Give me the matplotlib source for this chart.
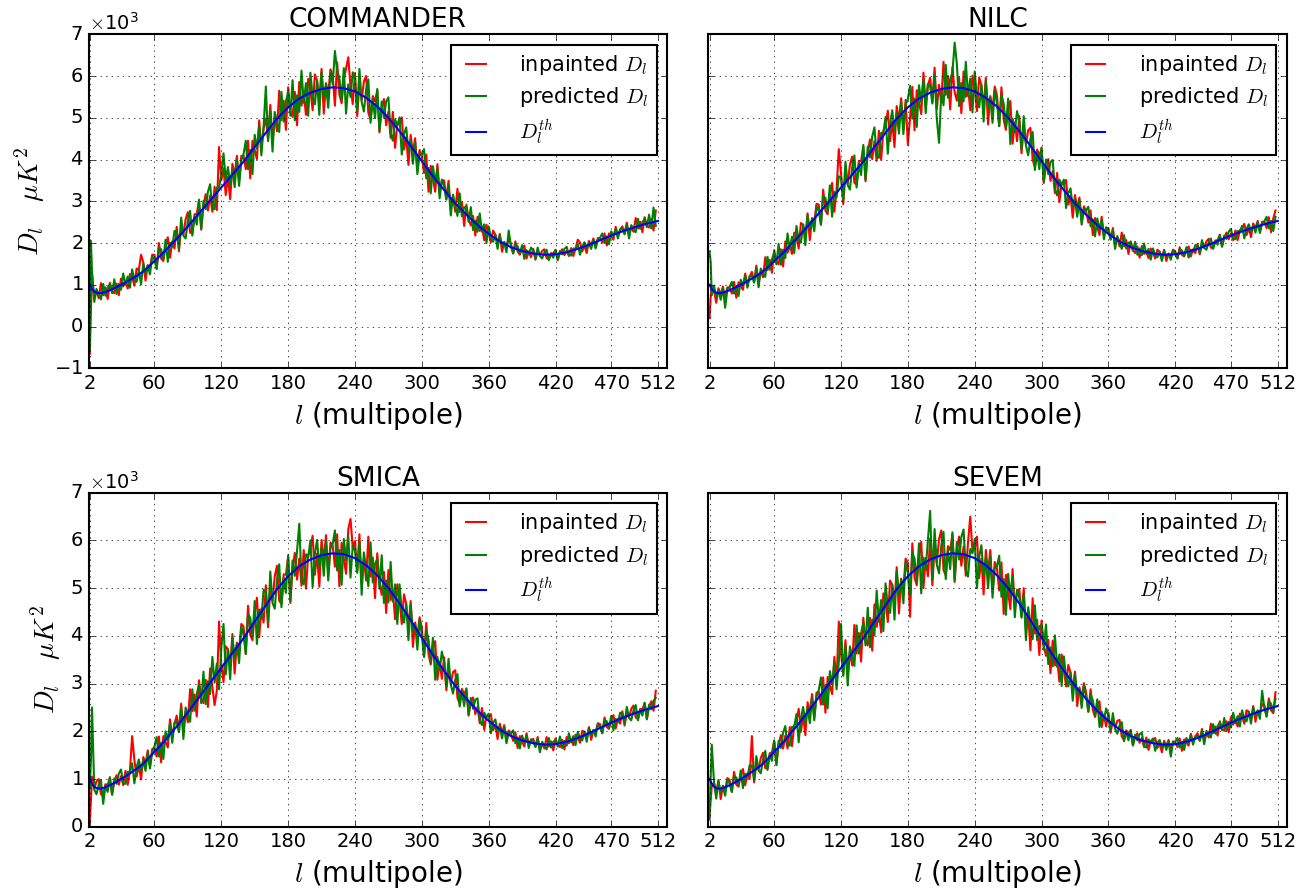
import numpy as np
import matplotlib
matplotlib.use("Agg")
import matplotlib.pyplot as plt

# multipoles of the spectra (values below in units of 10^3 muK^2)
ell = [2, 3, 4] + list(range(6, 511, 2))

# theoretical spectrum
ell_th = [2, 4, 6, 8, 10, 12, 15, 20, 25, 30, 35, 40, 45, 50, 55, 60, 65, 70, 75, 80,
          90, 100, 110, 120, 130, 140, 150, 160, 170, 180, 190, 200, 210, 220, 230, 240,
          250, 260, 270, 280, 290, 300, 310, 320, 330, 340, 350, 360, 370, 380, 390, 400,
          410, 420, 430, 440, 450, 460, 470, 480, 490, 500, 512]
dl_th = [1.00, 0.90, 0.84, 0.81, 0.80, 0.80, 0.82, 0.87, 0.93, 1.00, 1.07, 1.15, 1.23, 1.32,
         1.44, 1.57, 1.69, 1.82, 1.97, 2.10,
         2.40, 2.71, 3.02, 3.33, 3.64, 3.95, 4.30, 4.64, 4.98, 5.25,
         5.46, 5.60, 5.69, 5.73, 5.71, 5.63, 5.48, 5.27, 5.00, 4.68,
         4.33, 3.96, 3.60, 3.27, 2.95, 2.68, 2.43, 2.22, 2.04, 1.90,
         1.81, 1.75, 1.72, 1.73, 1.78, 1.86, 1.96, 2.07, 2.18, 2.28,
         2.37, 2.45, 2.53]

commander_inp = [
    -0.65, 0.40, 1.25, 0.68, 0.86, 0.68, 1.04, 0.75, 0.94, 0.66,
    1.05, 0.85, 0.80, 1.03, 0.75, 1.15, 0.96, 1.09, 0.91, 1.26,
    1.19, 0.98, 1.39, 1.36, 1.72, 1.54, 1.10, 1.47, 1.40, 1.72,
    1.72, 1.38, 2.00, 1.63, 1.57, 1.93, 2.14, 1.65, 2.04, 1.87,
    2.39, 1.80, 2.38, 2.20, 2.57, 2.74, 2.25, 2.23, 2.69, 2.70,
    3.01, 2.32, 2.89, 3.17, 2.78, 3.14, 2.75, 3.35, 2.79, 4.30,
    3.50, 3.79, 3.15, 3.59, 3.05, 3.90, 3.60, 4.09, 3.47, 4.09,
    4.09, 3.77, 4.45, 3.55, 4.45, 4.23, 4.01, 4.94, 4.28, 4.75,
    4.98, 4.48, 5.31, 4.42, 5.02, 4.68, 5.65, 4.94, 5.41, 4.71,
    5.73, 5.17, 5.02, 5.62, 4.82, 5.86, 5.29, 5.60, 5.07, 5.93,
    5.68, 5.18, 6.04, 5.89, 5.39, 6.17, 5.10, 5.83, 5.56, 6.16,
    6.01, 5.29, 6.33, 5.56, 5.35, 5.91, 6.18, 6.45, 5.74, 5.33,
    6.07, 5.04, 5.81, 5.42, 5.87, 6.00, 5.12, 4.96, 5.52, 5.39,
    5.65, 4.65, 5.24, 5.45, 4.82, 5.15, 4.52, 5.14, 4.28, 4.85,
    4.85, 5.01, 4.24, 4.54, 3.87, 4.59, 4.16, 4.51, 3.75, 4.23,
    4.08, 3.68, 4.12, 3.23, 3.85, 3.54, 3.23, 3.89, 3.22, 3.49,
    3.50, 3.06, 3.49, 2.81, 3.09, 2.75, 3.30, 2.74, 2.97, 2.41,
    2.92, 2.57, 2.42, 2.65, 2.18, 2.63, 2.29, 2.39, 2.07, 2.44,
    2.25, 2.02, 2.30, 2.20, 1.98, 2.22, 1.79, 2.03, 1.90, 2.10,
    1.98, 1.75, 2.04, 1.80, 1.72, 1.87, 1.94, 1.63, 1.80, 1.66,
    1.86, 1.60, 1.80, 1.70, 1.81, 1.85, 1.64, 1.61, 1.76, 1.75,
    1.83, 1.59, 1.77, 1.85, 1.71, 1.82, 1.69, 1.88, 1.69, 1.87,
    2.08, 2.01, 1.80, 1.94, 1.76, 2.05, 1.95, 2.11, 1.90, 2.12,
    2.12, 2.01, 2.23, 1.94, 2.23, 2.16, 2.08, 2.39, 2.17, 2.32,
    2.40, 2.22, 2.49, 2.19, 2.39, 2.27, 2.60, 2.35, 2.51, 2.26,
    2.62, 2.42, 2.37, 2.58, 2.30, 2.78]
commander_pred = [
    -0.55, 2.05, 1.30, 0.59, 0.90, 0.77, 0.65, 1.02, 0.74, 0.93,
    1.01, 0.80, 1.13, 0.78, 1.02, 0.88, 1.27, 1.00, 1.20, 0.93,
    1.37, 1.13, 1.07, 1.36, 1.01, 1.50, 1.28, 1.46, 1.25, 1.68,
    1.61, 1.38, 1.89, 1.85, 1.62, 2.08, 1.55, 2.01, 1.91, 2.29,
    2.28, 1.87, 2.61, 2.18, 2.11, 2.53, 2.77, 2.18, 2.64, 2.44,
    3.04, 2.35, 3.01, 2.81, 3.23, 3.41, 2.84, 2.81, 3.33, 3.33,
    3.66, 4.15, 3.52, 3.82, 3.38, 3.77, 3.34, 3.99, 3.37, 3.99,
    4.13, 4.45, 3.77, 4.23, 3.65, 4.59, 4.26, 4.80, 4.10, 4.79,
    5.75, 4.44, 5.16, 4.19, 5.14, 4.90, 4.66, 5.62, 4.91, 5.39,
    5.61, 5.05, 5.90, 4.94, 5.54, 5.14, 6.13, 5.36, 5.83, 5.05,
    6.08, 5.50, 5.32, 5.89, 5.07, 6.09, 5.50, 5.79, 5.24, 6.08,
    5.81, 6.60, 6.13, 5.96, 5.43, 6.19, 5.10, 5.80, 5.50, 6.09,
    5.91, 5.16, 6.17, 5.38, 5.15, 5.68, 5.92, 4.88, 5.44, 4.99,
    5.69, 4.69, 5.39, 5.00, 5.39, 5.49, 4.64, 4.45, 4.96, 4.82,
    5.01, 4.12, 4.61, 4.77, 4.20, 4.46, 3.90, 4.41, 3.65, 4.13,
    4.11, 4.25, 3.55, 3.80, 3.19, 3.84, 3.44, 3.77, 3.07, 3.52,
    3.37, 3.04, 3.39, 2.66, 3.16, 2.90, 2.65, 3.19, 2.64, 2.86,
    2.86, 2.51, 2.86, 2.31, 2.54, 2.27, 2.71, 2.27, 2.45, 2.00,
    2.40, 2.14, 2.03, 2.20, 1.86, 2.19, 1.94, 2.01, 1.78, 2.30,
    1.92, 1.75, 1.98, 1.92, 1.75, 1.95, 1.62, 1.83, 1.73, 1.89,
    1.82, 1.63, 1.89, 1.69, 1.63, 1.77, 1.84, 1.59, 1.74, 1.65,
    1.84, 1.60, 1.81, 1.73, 1.86, 1.91, 1.72, 1.70, 1.87, 1.86,
    1.97, 1.72, 1.92, 2.02, 1.87, 2.00, 1.86, 2.08, 1.87, 2.08,
    2.13, 2.23, 2.00, 2.16, 1.97, 2.28, 2.16, 2.34, 2.11, 2.33,
    2.33, 2.21, 2.44, 2.11, 2.43, 2.34, 2.26, 2.58, 2.34, 2.50,
    2.58, 2.38, 2.68, 2.35, 2.85, 2.41]

nilc_inp = [
    0.20, 0.70, 0.95, 0.87, 0.57, 0.92, 0.76, 0.96, 0.67, 0.94,
    0.93, 0.79, 1.07, 0.69, 1.06, 0.97, 0.88, 1.27, 1.00, 1.20,
    1.31, 1.07, 1.46, 1.05, 1.33, 1.18, 1.66, 1.35, 1.60, 1.29,
    1.83, 1.55, 1.49, 1.85, 1.44, 2.04, 1.77, 1.98, 1.74, 2.25,
    2.15, 1.87, 2.48, 2.44, 2.16, 2.71, 2.07, 2.60, 2.49, 2.94,
    2.92, 2.44, 3.28, 2.78, 2.69, 3.17, 3.44, 2.75, 3.27, 4.25,
    3.69, 2.93, 3.65, 3.42, 3.88, 4.07, 3.44, 3.40, 3.96, 3.96,
    4.31, 3.48, 4.16, 4.48, 4.01, 4.44, 3.97, 4.69, 4.00, 4.68,
    4.83, 5.17, 4.44, 4.92, 4.30, 5.28, 4.93, 5.47, 4.72, 5.43,
    4.35, 5.01, 5.74, 4.70, 5.66, 5.38, 5.09, 6.08, 5.31, 5.77,
    5.96, 5.38, 6.20, 5.21, 5.79, 5.37, 6.34, 5.55, 6.00, 5.20,
    6.21, 5.61, 5.41, 5.96, 5.11, 6.11, 5.50, 5.76, 5.18, 6.01,
    5.71, 5.16, 5.97, 5.78, 5.23, 5.96, 4.84, 5.52, 5.20, 5.75,
    5.54, 4.80, 5.73, 4.96, 4.71, 5.19, 5.40, 4.38, 4.89, 4.44,
    5.04, 4.15, 4.74, 4.37, 4.70, 4.76, 4.00, 3.82, 4.24, 4.10,
    4.26, 3.44, 3.88, 4.01, 3.49, 3.72, 3.20, 3.68, 2.98, 3.43,
    3.40, 3.51, 2.92, 3.13, 2.61, 3.15, 2.83, 3.09, 2.52, 2.88,
    2.76, 2.49, 2.78, 2.19, 2.60, 2.39, 2.19, 2.63, 2.19, 2.36,
    2.36, 2.09, 2.36, 1.95, 2.13, 1.92, 2.25, 1.92, 2.07, 1.74,
    2.04, 1.84, 1.76, 1.92, 1.65, 1.93, 1.74, 1.81, 1.64, 1.87,
    1.77, 1.63, 1.84, 1.79, 1.65, 1.84, 1.57, 1.75, 1.68, 1.84,
    1.80, 1.63, 1.90, 1.72, 1.68, 1.83, 1.92, 1.68, 1.85, 1.76,
    1.98, 1.73, 1.97, 1.89, 2.04, 2.10, 1.89, 1.88, 2.06, 2.07,
    2.19, 1.91, 2.13, 2.25, 2.09, 2.23, 2.07, 2.30, 2.07, 2.30,
    2.35, 2.46, 2.19, 2.36, 2.14, 2.47, 2.35, 2.53, 2.28, 2.51,
    2.51, 2.36, 2.62, 2.26, 2.59, 2.78]
nilc_pred = [
    1.80, 1.55, 0.75, 0.98, 0.72, 0.86, 0.64, 0.92, 0.45, 0.90,
    0.95, 1.07, 0.79, 0.97, 0.73, 1.12, 0.99, 1.21, 0.93, 1.21,
    1.22, 1.05, 1.39, 0.94, 1.39, 1.28, 1.19, 1.67, 1.36, 1.61,
    1.77, 1.49, 1.98, 1.48, 1.84, 1.64, 2.23, 1.85, 2.15, 1.76,
    2.41, 2.08, 2.01, 2.44, 1.95, 2.66, 2.33, 2.57, 2.28, 2.88,
    2.77, 2.44, 3.13, 3.08, 2.75, 3.38, 2.63, 3.23, 3.09, 3.60,
    3.56, 3.03, 3.95, 3.39, 3.28, 3.81, 4.10, 3.33, 3.90, 3.63,
    4.35, 3.52, 4.31, 4.05, 4.55, 4.77, 4.08, 4.04, 4.64, 4.64,
    5.02, 4.14, 4.86, 5.18, 4.68, 5.13, 4.62, 5.36, 4.61, 5.31,
    5.45, 5.77, 4.98, 5.46, 4.78, 5.78, 5.37, 5.92, 5.11, 5.81,
    5.76, 5.34, 6.04, 4.97, 4.40, 5.61, 5.30, 6.27, 5.48, 5.92,
    6.09, 6.80, 6.29, 5.28, 5.83, 5.39, 6.34, 5.52, 5.94, 5.13,
    6.11, 5.48, 5.25, 5.78, 4.91, 5.88, 5.24, 5.48, 4.88, 5.67,
    5.35, 4.80, 5.54, 5.34, 4.78, 5.46, 4.37, 4.98, 4.66, 5.16,
    4.91, 4.25, 5.04, 4.34, 4.10, 4.50, 4.66, 3.75, 4.18, 3.77,
    4.29, 3.47, 4.00, 3.65, 3.94, 3.99, 3.29, 3.14, 3.52, 3.40,
    3.52, 2.84, 3.19, 3.31, 2.86, 3.05, 2.63, 3.02, 2.44, 2.81,
    2.78, 2.87, 2.40, 2.57, 2.16, 2.59, 2.33, 2.55, 2.09, 2.38,
    2.28, 2.08, 2.30, 1.86, 2.17, 2.01, 1.86, 2.19, 1.87, 2.01,
    2.01, 1.81, 2.03, 1.72, 1.87, 1.71, 1.99, 1.74, 1.86, 1.60,
    1.87, 1.71, 1.66, 1.79, 1.57, 1.82, 1.67, 1.74, 1.60, 1.82,
    1.75, 1.63, 1.85, 1.82, 1.70, 1.90, 1.65, 1.84, 1.79, 1.95,
    1.94, 1.76, 2.07, 1.88, 1.84, 2.02, 2.11, 1.86, 2.04, 1.96,
    2.20, 1.92, 2.18, 2.10, 2.27, 2.34, 2.10, 2.09, 2.29, 2.28,
    2.41, 2.11, 2.34, 2.45, 2.27, 2.42, 2.25, 2.49, 2.24, 2.47,
    2.52, 2.63, 2.35, 2.53, 2.29, 2.63]

smica_inp = [
    0.10, 0.55, 1.05, 0.80, 0.95, 1.00, 0.68, 0.65, 0.89, 0.88,
    1.02, 0.67, 0.95, 1.08, 0.88, 1.06, 0.87, 1.17, 0.88, 1.17,
    1.90, 1.40, 1.05, 1.29, 0.99, 1.46, 1.32, 1.60, 1.27, 1.63,
    1.66, 1.47, 1.89, 1.35, 1.90, 1.78, 1.66, 2.25, 1.87, 2.16,
    2.33, 2.00, 2.58, 1.99, 2.42, 2.19, 2.88, 2.42, 2.77, 2.31,
    3.07, 2.68, 2.59, 3.08, 2.51, 3.32, 2.93, 2.55, 2.85, 4.30,
    3.40, 3.03, 3.78, 3.72, 3.35, 4.04, 3.21, 3.86, 3.70, 4.25,
    4.20, 3.62, 4.63, 4.02, 3.91, 4.48, 4.80, 3.97, 4.57, 4.28,
    5.06, 4.18, 5.01, 4.73, 5.25, 5.47, 4.74, 4.67, 5.29, 5.28,
    5.65, 4.69, 5.42, 5.74, 5.18, 5.62, 5.05, 5.80, 4.99, 5.69,
    5.80, 6.10, 5.28, 5.73, 5.03, 6.01, 5.58, 6.11, 5.28, 5.96,
    5.89, 5.45, 6.13, 5.04, 5.95, 5.63, 5.30, 6.24, 6.45, 5.85,
    5.99, 5.36, 6.13, 5.10, 5.63, 5.16, 6.08, 5.24, 5.64, 4.79,
    5.73, 5.11, 4.86, 5.34, 4.48, 5.38, 4.75, 4.95, 4.35, 5.08,
    4.75, 4.25, 4.87, 4.67, 4.17, 4.73, 3.77, 4.28, 3.98, 4.39,
    4.17, 3.56, 4.27, 3.62, 3.40, 3.75, 3.89, 3.08, 3.46, 3.10,
    3.55, 2.86, 3.29, 3.01, 3.24, 3.28, 2.70, 2.57, 2.89, 2.78,
    2.88, 2.33, 2.62, 2.71, 2.36, 2.51, 2.17, 2.49, 2.03, 2.32,
    2.30, 2.36, 2.02, 2.14, 1.84, 2.16, 1.97, 2.13, 1.80, 2.02,
    1.95, 1.80, 1.98, 1.65, 1.90, 1.79, 1.68, 1.96, 1.71, 1.82,
    1.84, 1.68, 1.88, 1.62, 1.75, 1.64, 1.88, 1.68, 1.79, 1.60,
    1.85, 1.71, 1.67, 1.82, 1.62, 1.88, 1.75, 1.83, 1.71, 1.93,
    1.88, 1.76, 2.01, 1.99, 1.86, 2.09, 1.82, 2.03, 1.98, 2.17,
    2.15, 1.96, 2.29, 2.09, 2.05, 2.24, 2.34, 2.06, 2.26, 2.16,
    2.42, 2.12, 2.39, 2.29, 2.47, 2.54, 2.29, 2.26, 2.47, 2.46,
    2.59, 2.25, 2.51, 2.63, 2.43, 2.85]
smica_pred = [
    0.80, 1.40, 2.50, 0.78, 0.68, 0.88, 0.98, 0.48, 0.86, 0.73,
    1.04, 0.68, 1.01, 0.90, 1.11, 1.20, 0.91, 0.90, 1.15, 1.15,
    1.33, 0.91, 1.25, 1.41, 1.17, 1.39, 1.17, 1.55, 1.22, 1.57,
    1.68, 1.88, 1.47, 1.76, 1.42, 2.00, 1.81, 2.16, 1.76, 2.18,
    2.20, 1.98, 2.48, 1.84, 2.50, 2.35, 2.20, 2.88, 2.43, 2.78,
    2.98, 2.59, 3.25, 2.57, 3.05, 2.78, 3.56, 3.02, 3.42, 2.88,
    3.73, 4.25, 3.19, 3.72, 3.09, 3.97, 3.54, 3.83, 3.43, 4.19,
    4.02, 3.62, 4.45, 4.38, 3.98, 4.73, 3.83, 4.55, 4.36, 4.97,
    4.91, 4.29, 5.35, 4.69, 4.57, 5.17, 5.50, 4.60, 5.22, 4.90,
    5.69, 4.73, 5.58, 5.26, 5.78, 6.35, 5.17, 5.08, 5.71, 5.65,
    6.00, 5.02, 5.72, 6.01, 5.43, 5.85, 5.26, 5.99, 5.16, 5.84,
    5.93, 6.21, 5.37, 5.80, 5.07, 6.03, 5.58, 6.08, 5.22, 5.89,
    5.79, 5.32, 5.97, 4.86, 5.75, 5.40, 5.04, 5.96, 5.12, 5.51,
    5.61, 4.99, 5.69, 4.69, 5.16, 4.70, 5.55, 4.72, 5.08, 4.25,
    5.08, 4.51, 4.28, 4.67, 3.91, 4.66, 4.10, 4.25, 3.71, 4.33,
    4.02, 3.56, 4.12, 3.92, 3.46, 3.96, 3.08, 3.56, 3.28, 3.67,
    3.45, 2.94, 3.52, 2.98, 2.79, 3.08, 3.20, 2.52, 2.84, 2.53,
    2.90, 2.35, 2.70, 2.47, 2.66, 2.69, 2.23, 2.13, 2.39, 2.30,
    2.37, 1.96, 2.18, 2.25, 1.99, 2.10, 1.85, 2.09, 1.75, 1.98,
    1.96, 2.02, 1.75, 1.87, 1.64, 1.91, 1.76, 1.91, 1.65, 1.83,
    1.79, 1.67, 1.84, 1.56, 1.78, 1.70, 1.62, 1.86, 1.66, 1.78,
    1.82, 1.68, 1.89, 1.65, 1.80, 1.70, 1.96, 1.77, 1.90, 1.71,
    1.99, 1.85, 1.81, 1.99, 1.78, 2.07, 1.93, 2.02, 1.89, 2.15,
    2.09, 1.96, 2.23, 2.21, 2.08, 2.32, 2.02, 2.26, 2.19, 2.39,
    2.37, 2.16, 2.51, 2.28, 2.23, 2.44, 2.55, 2.23, 2.45, 2.33,
    2.60, 2.26, 2.56, 2.46, 2.64, 2.70]

sevem_inp = [
    0.20, 0.55, 0.85, 0.93, 0.71, 0.98, 0.58, 0.86, 0.77, 1.02,
    0.98, 0.73, 1.15, 0.88, 0.84, 1.08, 1.21, 0.87, 1.12, 1.00,
    1.90, 0.93, 1.32, 1.20, 1.44, 1.55, 1.23, 1.22, 1.54, 1.56,
    1.79, 1.29, 1.71, 1.92, 1.64, 1.91, 1.64, 2.09, 1.69, 2.12,
    2.23, 2.47, 1.99, 2.33, 1.92, 2.61, 2.38, 2.78, 2.30, 2.81,
    2.83, 2.56, 3.13, 2.39, 3.14, 2.96, 2.78, 3.56, 3.03, 4.30,
    3.63, 3.19, 3.91, 3.16, 3.68, 3.38, 4.23, 3.63, 4.06, 3.46,
    4.38, 3.91, 3.80, 4.38, 3.69, 4.66, 4.19, 4.51, 4.07, 4.89,
    4.72, 4.29, 5.16, 5.07, 4.64, 5.44, 4.47, 5.20, 4.99, 5.62,
    5.53, 4.40, 5.94, 5.22, 5.06, 5.66, 5.97, 5.00, 5.63, 5.25,
    6.04, 5.06, 5.88, 5.53, 6.03, 6.21, 5.38, 5.27, 5.88, 5.80,
    6.13, 5.13, 5.81, 6.08, 5.47, 5.87, 5.26, 5.96, 6.50, 5.77,
    5.83, 6.08, 5.21, 5.62, 4.87, 5.80, 5.32, 5.80, 4.92, 5.55,
    5.42, 4.95, 5.54, 4.46, 5.28, 4.92, 4.56, 5.40, 4.58, 4.93,
    4.98, 4.41, 5.00, 4.11, 4.50, 3.70, 4.79, 4.05, 4.34, 3.60,
    4.32, 3.80, 3.58, 3.92, 3.22, 3.90, 3.38, 3.53, 3.04, 3.61,
    3.32, 2.94, 3.39, 3.23, 2.84, 3.25, 2.53, 2.92, 2.69, 3.01,
    2.82, 2.41, 2.88, 2.45, 2.30, 2.53, 2.63, 2.09, 2.35, 2.10,
    2.39, 1.97, 2.24, 2.07, 2.22, 2.24, 1.89, 1.82, 2.02, 1.96,
    2.02, 1.70, 1.88, 1.96, 1.76, 1.86, 1.67, 1.87, 1.61, 1.80,
    1.80, 1.86, 1.65, 1.75, 1.56, 1.80, 1.69, 1.82, 1.61, 1.79,
    1.77, 1.67, 1.85, 1.59, 1.83, 1.76, 1.70, 1.95, 1.77, 1.89,
    1.96, 1.81, 2.05, 1.80, 1.97, 1.87, 2.16, 1.96, 2.10, 1.91,
    2.21, 2.05, 2.01, 2.21, 1.98, 2.30, 2.14, 2.24, 2.10, 2.37,
    2.31, 2.16, 2.44, 2.41, 2.26, 2.53, 2.20, 2.44, 2.37, 2.57,
    2.55, 2.31, 2.69, 2.44, 2.38, 2.82]
sevem_pred = [
    0.15, 1.05, 1.72, 0.93, 0.59, 0.95, 0.73, 0.84, 0.65, 0.99,
    0.90, 0.73, 1.07, 1.03, 0.87, 1.18, 0.81, 1.11, 1.03, 1.29,
    1.28, 0.98, 1.48, 1.18, 1.12, 1.41, 1.59, 1.19, 1.51, 1.38,
    1.81, 1.31, 1.80, 1.65, 1.97, 2.11, 1.70, 1.70, 2.09, 2.09,
    2.36, 1.77, 2.27, 2.51, 2.18, 2.50, 2.17, 2.70, 2.23, 2.73,
    2.86, 3.13, 2.56, 2.96, 2.48, 3.26, 2.99, 3.44, 2.88, 3.45,
    4.25, 3.16, 3.78, 2.96, 3.78, 3.57, 3.37, 4.22, 3.63, 4.06,
    4.27, 3.80, 4.59, 3.76, 4.34, 4.01, 4.95, 4.30, 4.75, 4.10,
    5.10, 4.60, 4.48, 5.07, 4.34, 5.36, 4.85, 5.17, 4.68, 5.54,
    5.33, 4.85, 5.74, 5.62, 5.14, 5.94, 4.89, 5.64, 5.39, 6.01,
    6.62, 5.18, 6.24, 5.49, 5.31, 5.89, 6.18, 5.19, 5.80, 5.40,
    6.17, 5.17, 5.97, 5.60, 6.07, 6.23, 5.38, 5.24, 5.82, 5.73,
    6.03, 5.00, 5.65, 5.90, 5.27, 5.64, 5.00, 5.68, 4.80, 5.43,
    5.46, 5.68, 4.82, 5.19, 4.44, 5.30, 4.83, 5.25, 4.39, 4.97,
    4.81, 4.38, 4.87, 3.91, 4.60, 4.26, 3.93, 4.64, 3.91, 4.20,
    4.23, 3.71, 4.24, 3.41, 3.76, 3.36, 4.01, 3.35, 3.61, 2.95,
    3.57, 3.14, 2.94, 3.23, 2.64, 3.20, 2.78, 2.89, 2.49, 2.96,
    2.72, 2.41, 2.78, 2.65, 2.34, 2.67, 2.09, 2.41, 2.23, 2.48,
    2.33, 2.02, 2.38, 2.05, 1.95, 2.12, 2.19, 1.79, 1.99, 1.81,
    2.03, 1.71, 1.93, 1.81, 1.94, 1.97, 1.70, 1.66, 1.83, 1.78,
    1.85, 1.59, 1.76, 1.82, 1.66, 1.76, 1.61, 1.79, 1.47, 1.76,
    1.78, 1.86, 1.66, 1.78, 1.61, 1.86, 1.77, 1.91, 1.72, 1.90,
    1.90, 1.80, 2.01, 1.73, 2.01, 1.94, 1.87, 2.15, 1.95, 2.11,
    2.18, 2.02, 2.28, 2.01, 2.20, 2.08, 2.39, 2.17, 2.32, 2.10,
    2.44, 2.26, 2.21, 2.41, 2.16, 2.50, 2.33, 2.43, 2.26, 2.85,
    2.48, 2.31, 2.62, 2.58, 2.41, 2.69]

titles = ["COMMANDER", "NILC", "SMICA", "SEVEM"]
inpainted = [commander_inp, nilc_inp, smica_inp, sevem_inp]
predicted = [commander_pred, nilc_pred, smica_pred, sevem_pred]
ylims = [(-1, 7), (-1, 7), (0, 7), (0, 7)]
xticks = [2, 60, 120, 180, 240, 300, 360, 420, 470, 512]

plt.style.use("classic")
plt.rcParams.update({
    "figure.facecolor": "white",
    "savefig.facecolor": "white",
    "xtick.labelsize": 14,
    "ytick.labelsize": 14,
    "axes.linewidth": 1.5,
    "patch.linewidth": 1.5,
})

fig, axes = plt.subplots(2, 2, figsize=(13.16, 8.93), dpi=100)
fig.subplots_adjust(left=0.0674, right=0.9777, top=0.9616, bottom=0.0742,
                    wspace=0.0718, hspace=0.3725)

scale = 1e3
for i, ax in enumerate(axes.flat):
    ax.plot(ell, np.array(inpainted[i]) * scale, color="r", lw=1.5, label="inpainted $D_l$")
    ax.plot(ell, np.array(predicted[i]) * scale, color="g", lw=1.5, label="predicted $D_l$")
    ax.plot(ell_th, np.array(dl_th) * scale, color="b", lw=1.5, label="$D_l^{th}$")

    ax.set_xlim(1, 520)
    lo, hi = ylims[i]
    ax.set_ylim(lo * scale, hi * scale)
    ax.set_xticks(xticks)
    ax.set_yticks(np.arange(lo, hi + 1) * scale)
    ax.ticklabel_format(axis="y", style="sci", scilimits=(0, 0), useMathText=True)
    ax.grid(True)

    ax.set_title(titles[i], fontsize=19)
    ax.set_xlabel("$l$ (multipole)", fontsize=20)
    ax.legend(loc="upper right", fontsize=15, handlelength=1.55,
              handletextpad=1.3, labelspacing=0.4)

    if i % 2 == 0:
        ax.set_ylabel(r"$D_l\quad\mu K^2$", fontsize=20)
    else:
        ax.tick_params(labelleft=False)
        ax.yaxis.offsetText.set_visible(False)

fig.savefig("out.png", dpi=100)
